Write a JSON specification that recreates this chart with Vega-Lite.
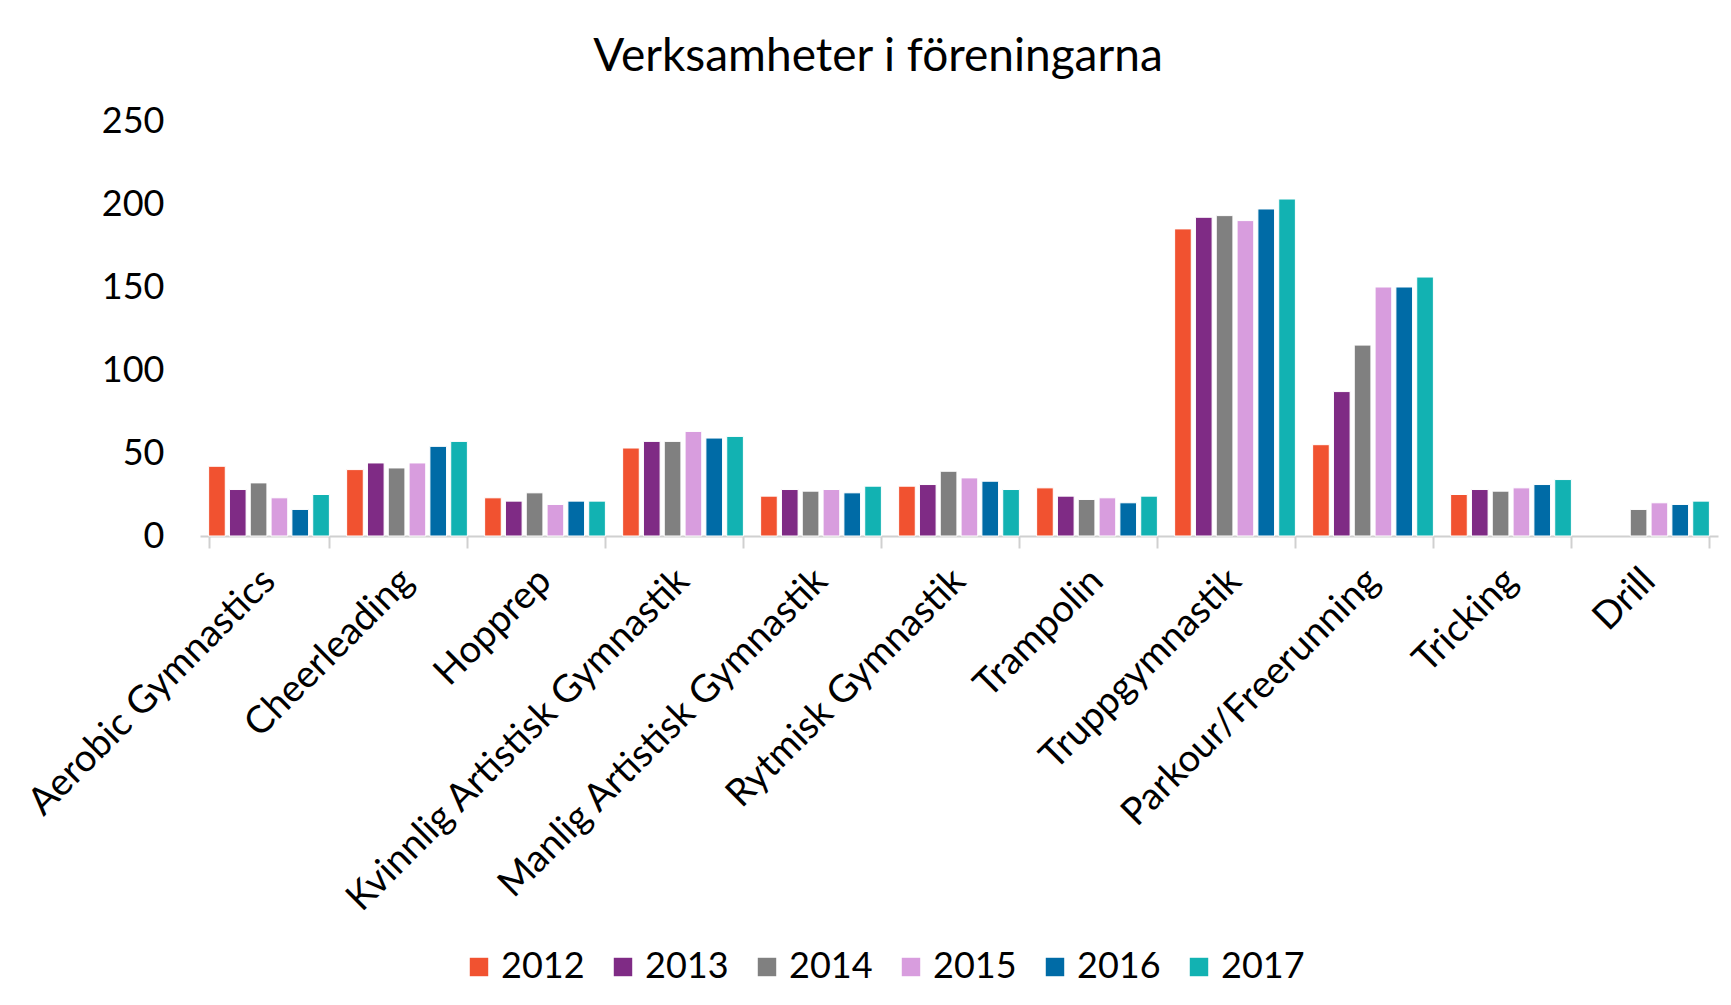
{
  "$schema": "https://vega.github.io/schema/vega-lite/v6.json",
  "autosize": {"type": "none"},
  "padding": {"left": 200, "top": 121, "right": 13, "bottom": 469},
  "width": 1518,
  "height": 415,
  "background": "white",
  "title": {
    "text": "Verksamheter i föreningarna",
    "fontSize": 46,
    "fontWeight": "normal",
    "color": "#000000",
    "anchor": "middle",
    "frame": "group",
    "dx": -81,
    "baseline": "alphabetic",
    "offset": -14
  },
  "data": {
    "values": [
      {"activity": "Aerobic Gymnastics", "year": "2012", "value": 42},
      {"activity": "Aerobic Gymnastics", "year": "2013", "value": 28},
      {"activity": "Aerobic Gymnastics", "year": "2014", "value": 32},
      {"activity": "Aerobic Gymnastics", "year": "2015", "value": 23},
      {"activity": "Aerobic Gymnastics", "year": "2016", "value": 16},
      {"activity": "Aerobic Gymnastics", "year": "2017", "value": 25},
      {"activity": "Cheerleading", "year": "2012", "value": 40},
      {"activity": "Cheerleading", "year": "2013", "value": 44},
      {"activity": "Cheerleading", "year": "2014", "value": 41},
      {"activity": "Cheerleading", "year": "2015", "value": 44},
      {"activity": "Cheerleading", "year": "2016", "value": 54},
      {"activity": "Cheerleading", "year": "2017", "value": 57},
      {"activity": "Hopprep", "year": "2012", "value": 23},
      {"activity": "Hopprep", "year": "2013", "value": 21},
      {"activity": "Hopprep", "year": "2014", "value": 26},
      {"activity": "Hopprep", "year": "2015", "value": 19},
      {"activity": "Hopprep", "year": "2016", "value": 21},
      {"activity": "Hopprep", "year": "2017", "value": 21},
      {"activity": "Kvinnlig Artistisk Gymnastik", "year": "2012", "value": 53},
      {"activity": "Kvinnlig Artistisk Gymnastik", "year": "2013", "value": 57},
      {"activity": "Kvinnlig Artistisk Gymnastik", "year": "2014", "value": 57},
      {"activity": "Kvinnlig Artistisk Gymnastik", "year": "2015", "value": 63},
      {"activity": "Kvinnlig Artistisk Gymnastik", "year": "2016", "value": 59},
      {"activity": "Kvinnlig Artistisk Gymnastik", "year": "2017", "value": 60},
      {"activity": "Manlig Artistisk Gymnastik", "year": "2012", "value": 24},
      {"activity": "Manlig Artistisk Gymnastik", "year": "2013", "value": 28},
      {"activity": "Manlig Artistisk Gymnastik", "year": "2014", "value": 27},
      {"activity": "Manlig Artistisk Gymnastik", "year": "2015", "value": 28},
      {"activity": "Manlig Artistisk Gymnastik", "year": "2016", "value": 26},
      {"activity": "Manlig Artistisk Gymnastik", "year": "2017", "value": 30},
      {"activity": "Rytmisk Gymnastik", "year": "2012", "value": 30},
      {"activity": "Rytmisk Gymnastik", "year": "2013", "value": 31},
      {"activity": "Rytmisk Gymnastik", "year": "2014", "value": 39},
      {"activity": "Rytmisk Gymnastik", "year": "2015", "value": 35},
      {"activity": "Rytmisk Gymnastik", "year": "2016", "value": 33},
      {"activity": "Rytmisk Gymnastik", "year": "2017", "value": 28},
      {"activity": "Trampolin", "year": "2012", "value": 29},
      {"activity": "Trampolin", "year": "2013", "value": 24},
      {"activity": "Trampolin", "year": "2014", "value": 22},
      {"activity": "Trampolin", "year": "2015", "value": 23},
      {"activity": "Trampolin", "year": "2016", "value": 20},
      {"activity": "Trampolin", "year": "2017", "value": 24},
      {"activity": "Truppgymnastik", "year": "2012", "value": 185},
      {"activity": "Truppgymnastik", "year": "2013", "value": 192},
      {"activity": "Truppgymnastik", "year": "2014", "value": 193},
      {"activity": "Truppgymnastik", "year": "2015", "value": 190},
      {"activity": "Truppgymnastik", "year": "2016", "value": 197},
      {"activity": "Truppgymnastik", "year": "2017", "value": 203},
      {"activity": "Parkour/Freerunning", "year": "2012", "value": 55},
      {"activity": "Parkour/Freerunning", "year": "2013", "value": 87},
      {"activity": "Parkour/Freerunning", "year": "2014", "value": 115},
      {"activity": "Parkour/Freerunning", "year": "2015", "value": 150},
      {"activity": "Parkour/Freerunning", "year": "2016", "value": 150},
      {"activity": "Parkour/Freerunning", "year": "2017", "value": 156},
      {"activity": "Tricking", "year": "2012", "value": 25},
      {"activity": "Tricking", "year": "2013", "value": 28},
      {"activity": "Tricking", "year": "2014", "value": 27},
      {"activity": "Tricking", "year": "2015", "value": 29},
      {"activity": "Tricking", "year": "2016", "value": 31},
      {"activity": "Tricking", "year": "2017", "value": 34},
      {"activity": "Drill", "year": "2014", "value": 16},
      {"activity": "Drill", "year": "2015", "value": 20},
      {"activity": "Drill", "year": "2016", "value": 19},
      {"activity": "Drill", "year": "2017", "value": 21}
    ]
  },
  "mark": {"type": "bar", "stroke": "white", "strokeWidth": 1},
  "encoding": {
    "x": {
      "field": "activity",
      "type": "nominal",
      "sort": null,
      "scale": {"paddingInner": 0.125, "paddingOuter": 0.0625},
      "axis": {
        "title": null,
        "labelAngle": -45,
        "labelAlign": "right",
        "labelBaseline": "middle",
        "labelFontSize": 38,
        "labelColor": "#000000",
        "labelPadding": 27,
        "labelLimit": 0,
        "tickBand": "extent",
        "tickSize": 12,
        "tickColor": "#d0d0d0",
        "tickWidth": 2,
        "domainColor": "#d0d0d0",
        "domainWidth": 2,
        "grid": false
      }
    },
    "xOffset": {
      "field": "year",
      "type": "nominal",
      "scale": {"paddingInner": 0.2, "paddingOuter": 0}
    },
    "y": {
      "field": "value",
      "type": "quantitative",
      "scale": {"domain": [0, 250], "nice": false},
      "axis": {
        "title": null,
        "values": [0, 50, 100, 150, 200, 250],
        "labelFontSize": 36,
        "labelColor": "#000000",
        "labelPadding": 36,
        "ticks": false,
        "domain": false,
        "grid": false
      }
    },
    "color": {
      "field": "year",
      "type": "nominal",
      "scale": {
        "domain": ["2012", "2013", "2014", "2015", "2016", "2017"],
        "range": ["#F15230", "#7F2B85", "#808080", "#D89DDE", "#006BA6", "#12B2B2"]
      },
      "legend": {
        "title": null,
        "orient": "none",
        "legendX": 261,
        "legendY": 828,
        "direction": "horizontal",
        "columns": 6,
        "symbolType": "square",
        "symbolSize": 340,
        "symbolStrokeWidth": 0,
        "labelFontSize": 36,
        "labelColor": "#000000",
        "labelOffset": 4,
        "columnPadding": 20
      }
    }
  },
  "config": {
    "font": "Lato",
    "view": {"stroke": null}
  }
}
